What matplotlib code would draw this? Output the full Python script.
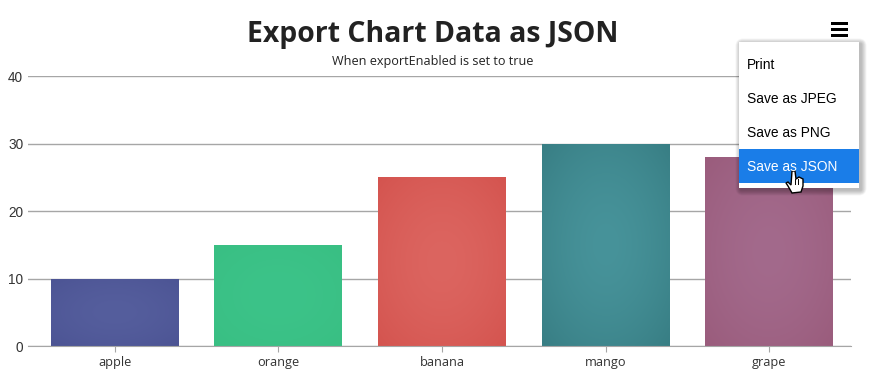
import numpy as np
import matplotlib
matplotlib.use('Agg')
import matplotlib.pyplot as plt
from matplotlib.patches import Rectangle, Polygon, FancyBboxPatch

W, H = 870, 380

categories = ['apple', 'orange', 'banana', 'mango', 'grape']
values = [10, 15, 25, 30, 28]
centre_colors = ['#555e9d', '#3cc389', '#dc6560', '#47939a', '#a36a8c']
edge_colors = ['#4c5494', '#39bf83', '#d4544f', '#387e84', '#9a5c7c']
y_ticks = [0, 10, 20, 30, 40]
menu_items = ['Print', 'Save as JPEG', 'Save as PNG', 'Save as JSON']

fig = plt.figure(figsize=(W / 100, H / 100), dpi=100, facecolor='white')

# plot area, in pixels of the picture
left, right, top, bottom = 28, 851, 76, 346
ax = fig.add_axes([left / W, 1 - bottom / H, (right - left) / W, (bottom - top) / H])

bars = ax.bar(range(len(values)), values, width=0.7824, color=edge_colors, zorder=2)

# soft radial shading inside each bar
yy, xx = np.mgrid[-1:1:80j, -1:1:80j]
r = np.clip(np.sqrt(xx ** 2 + yy ** 2) / np.sqrt(2), 0, 1)[..., None] ** 1.6
for bar, c0, c1 in zip(bars, centre_colors, edge_colors):
    a = np.array(matplotlib.colors.to_rgb(c0))
    b = np.array(matplotlib.colors.to_rgb(c1))
    img = a + (b - a) * r
    im = ax.imshow(img, extent=(bar.get_x(), bar.get_x() + bar.get_width(), 0, bar.get_height()),
                   aspect='auto', zorder=3, interpolation='bilinear')
    im.set_clip_path(bar)

ax.set_xlim(-0.5306, 4.5)
ax.set_ylim(0, 40)
ax.set_xticks(range(len(categories)))
ax.set_xticklabels(categories, family='Open Sans', fontsize=9.2, color='#333333')
ax.set_yticks(y_ticks)
ax.set_yticklabels(y_ticks, family='Liberation Sans', fontsize=9.8, color='#333333')
ax.grid(axis='y', color='#a6a6a6', linewidth=1, zorder=1)
ax.set_axisbelow(True)
ax.tick_params(axis='y', length=0, pad=3.5)
ax.tick_params(axis='x', length=4, color='#a6a6a6', pad=3.5)
for s in ['top', 'left', 'right']:
    ax.spines[s].set_visible(False)
ax.spines['bottom'].set_color('#a6a6a6')
ax.spines['bottom'].set_zorder(4)

# overlay in pixel coordinates for title and export menu
ov = fig.add_axes([0, 0, 1, 1], zorder=5)
ov.set_xlim(0, W)
ov.set_ylim(H, 0)
ov.axis('off')
ov.patch.set_alpha(0)

ov.text(432.5, 34.5, 'Export Chart Data as JSON', ha='center', va='center',
        family='Open Sans', fontweight='bold', fontsize=20.4, color='#222222')
ov.text(433, 61, 'When exportEnabled is set to true', ha='center', va='center',
        family='Open Sans', fontsize=9.1, color='#222222')

# hamburger icon
for yb in [22, 28, 34]:
    ov.add_patch(Rectangle((831, yb), 17, 3, color='black', lw=0))

# menu with shadow
mx, my, mw, mh = 739, 42, 120, 146
for i in range(8, 0, -1):
    ov.add_patch(FancyBboxPatch((mx + 2, my + 2), mw, mh, boxstyle=f'round,pad={i * 0.7},rounding_size={i}',
                                fc='black', ec='none', alpha=0.035))
ov.add_patch(Rectangle((mx, my), mw, mh, fc='white', ec='none'))
ov.add_patch(Rectangle((mx, 149), mw, 34, fc='#1a7de8', ec='none'))
for i, item in enumerate(menu_items):
    ov.text(747, 65 + i * 34, item, ha='left', va='center', family='Liberation Sans', fontsize=9.9,
            color='white' if i == 3 else 'black')

# hand cursor
hand = [(792, 171), (795, 171), (796, 179), (799, 177), (803, 179), (803, 186), (801, 192),
        (792, 193), (788, 186), (786, 183), (788, 182), (791, 185)]
ov.add_patch(Polygon(hand, closed=True, fc='white', ec='black', lw=1))
for xf in [795.5, 798.5]:
    ov.plot([xf, xf], [179, 184], color='black', lw=0.7)

fig.savefig('out.png', dpi=100)
